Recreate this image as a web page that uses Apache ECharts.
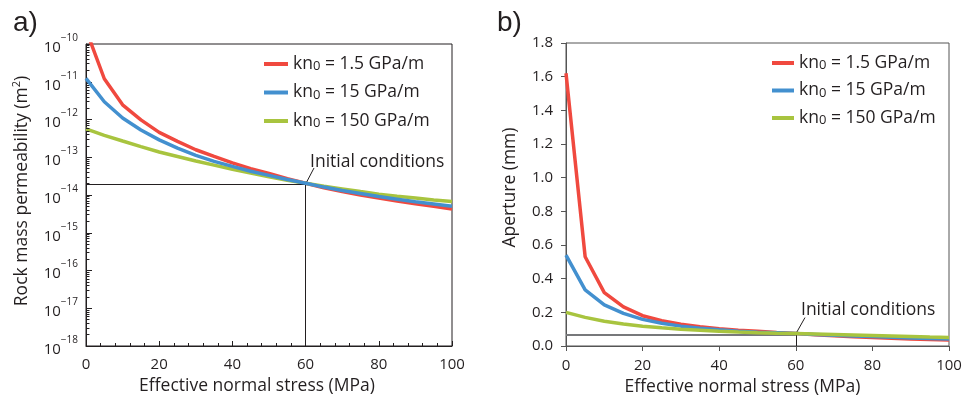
<!DOCTYPE html>
<html><head><meta charset="utf-8">
<script src="https://cdn.jsdelivr.net/npm/echarts@6/dist/echarts.min.js"></script>
<style>html,body{margin:0;padding:0;background:#fff}#c{width:969px;height:395px}</style>
</head><body><div id="c"></div>
<script>
// ---- data ----
const stress = [0,5,10,15,20,25,30,35,40,45,50,55,60,65,70,75,80,85,90,95,100];
const seriesNames = ['kn0 = 1.5 GPa/m', 'kn0 = 15 GPa/m', 'kn0 = 150 GPa/m'];
const colors = ['#f0493f', '#4390cf', '#a8c43f'];
// Panel a) rock mass permeability (m^2)
const permRed   = [2.40e-10,1.20e-11,2.45e-12,9.77e-13,4.57e-13,2.63e-13,1.58e-13,1.05e-13,7.08e-14,5.01e-14,3.72e-14,2.69e-14,2.04e-14,1.55e-14,1.23e-14,1.00e-14,8.32e-15,6.92e-15,5.89e-15,5.01e-15,4.27e-15];
const permBlue  = [1.23e-11,2.95e-12,1.10e-12,5.25e-13,2.88e-13,1.74e-13,1.12e-13,7.76e-14,5.75e-14,4.27e-14,3.31e-14,2.57e-14,2.04e-14,1.62e-14,1.32e-14,1.10e-14,9.12e-15,7.76e-15,6.61e-15,5.75e-15,5.01e-15];
const permGreen = [5.62e-13,3.80e-13,2.69e-13,1.91e-13,1.38e-13,1.05e-13,7.94e-14,6.17e-14,4.79e-14,3.80e-14,3.02e-14,2.45e-14,2.04e-14,1.70e-14,1.45e-14,1.23e-14,1.05e-14,9.33e-15,8.32e-15,7.41e-15,6.76e-15];
// Panel b) aperture (mm)
const apRed   = [1.62,0.53,0.317,0.232,0.18,0.15,0.13,0.115,0.103,0.094,0.087,0.080,0.074,0.067,0.061,0.055,0.050,0.046,0.042,0.038,0.035];
const apBlue  = [0.54,0.333,0.244,0.194,0.158,0.135,0.118,0.105,0.096,0.088,0.082,0.078,0.074,0.069,0.064,0.060,0.056,0.052,0.048,0.045,0.042];
const apGreen = [0.20,0.17,0.147,0.131,0.118,0.108,0.100,0.094,0.088,0.083,0.079,0.076,0.074,0.071,0.068,0.065,0.062,0.059,0.056,0.053,0.051];
const xTickLabels = [0,20,40,60,80,100];
const permDecades = [-18,-17,-16,-15,-14,-13,-12,-11,-10];
const apertureTicks = ['0.0','0.2','0.4','0.6','0.8','1.0','1.2','1.4','1.6','1.8'];
const initStress = 60, initPerm = 1.95e-14, initAperture = 0.068;
const leaderA = [62.3, 5.2e-14], leaderB = [62.4, 0.169];

// ---- build ----
const FONT = 'Open Sans';
const INK = '#231f20';
const pair = arr => stress.map((x, i) => [x, arr[i]]);
const minorTickValues = [];
for (let e = permDecades[0]; e < permDecades[permDecades.length-1]; e++)
  for (let m = 2; m <= 9; m++) minorTickValues.push(m * Math.pow(10, e));
const MINOR_LEN = 0.95; // tick length in stress units (≈3.5 px)

function legendFmt(name){ return '{a|kn}{z|0}{a|' + name.slice(3) + '}'; }
const legendRich = {
  a:{fontFamily:FONT,fontSize:17.5,color:INK},
  z:{fontFamily:FONT,fontSize:13,color:INK,verticalAlign:'bottom'}
};

function lineSeries(name, data, color, xi, z){
  return {type:'line', name, data, xAxisIndex:xi, yAxisIndex:xi, symbol:'none',
    lineStyle:{color, width:3.5}, itemStyle:{color}, z, clip:true, silent:true, animation:false};
}
const blackLine = {color:INK, width:1, type:'solid'};
const icLabel = {show:true, formatter:'Initial conditions', position:'right', distance:0,
  fontSize:17.5, color:INK, fontFamily:FONT};

const minorTickLines = minorTickValues.map(v =>
  [{coord:[0, v], lineStyle:{color:INK, width:1, type:'solid'}}, {coord:[MINOR_LEN, v]}]);

const option = {
  animation:false,
  textStyle:{fontFamily:FONT},
  graphic:[
    {id:'ta', type:'text', left:13, top:9, style:{text:'a)', font:'28px "Liberation Sans"', fill:INK}},
    {id:'tb', type:'text', left:497, top:9, style:{text:'b)', font:'28px "Liberation Sans"', fill:INK}}
  ],
  legend:[
    {data:seriesNames, orient:'vertical', left:264, top:55, padding:0, itemWidth:24, itemHeight:4, itemGap:10.5, icon:'rect',
     formatter:legendFmt, textStyle:{rich:legendRich}, selectedMode:false},
    {data:seriesNames, orient:'vertical', left:772, top:54, padding:0, itemWidth:22, itemHeight:4, itemGap:9.5, icon:'rect',
     formatter:legendFmt, textStyle:{rich:legendRich}, selectedMode:false}
  ],
  grid:[
    {left:86, right:517, top:44, bottom:49, containLabel:false, outerBoundsMode:'none',
     show:true, borderColor:INK, borderWidth:1, backgroundColor:'transparent'},
    {left:566, right:20, top:43, bottom:49, containLabel:false, outerBoundsMode:'none',
     show:true, borderColor:'#555', borderWidth:1, backgroundColor:'transparent'}
  ],
  xAxis:[
    {type:'value', gridIndex:0, min:0, max:100, interval:20,
     name:'Effective normal stress (MPa)', nameLocation:'middle', nameGap:31,
     nameTextStyle:{fontSize:17.5, color:INK, fontFamily:FONT, padding:[0,24,0,0]},
     axisLine:{lineStyle:{color:INK, width:1}},
     axisTick:{show:true, inside:true, length:5, lineStyle:{color:INK, width:1}},
     minorTick:{show:true, splitNumber:5, length:3, lineStyle:{color:INK, width:1}},
     axisLabel:{fontSize:15, color:INK, margin:11, fontFamily:FONT},
     splitLine:{show:false}},
    {type:'value', gridIndex:1, min:0, max:100, interval:20,
     name:'Effective normal stress (MPa)', nameLocation:'middle', nameGap:31,
     nameTextStyle:{fontSize:17.5, color:INK, fontFamily:FONT, padding:[0,30,0,0]},
     axisLine:{lineStyle:{color:'#555', width:1}},
     axisTick:{show:true, inside:false, length:5, lineStyle:{color:'#555', width:1}},
     axisLabel:{fontSize:15, color:INK, margin:12, fontFamily:FONT},
     splitLine:{show:false}}
  ],
  yAxis:[
    {type:'log', gridIndex:0, logBase:10, min:Math.pow(10,permDecades[0]), max:Math.pow(10,permDecades[permDecades.length-1]), interval:1,
     name:'Rock mass permeability (m{s|2})', nameLocation:'middle', nameGap:53, nameRotate:90,
     nameTextStyle:{fontSize:17.5, color:INK, fontFamily:FONT, padding:[0,0,0,8],
       rich:{s:{fontSize:11, color:INK, fontFamily:FONT, verticalAlign:'top', lineHeight:22}}},
     axisLine:{lineStyle:{color:INK, width:1}},
     axisTick:{show:true, inside:true, length:6, lineStyle:{color:INK, width:1}},
     axisLabel:{margin:8, color:INK,
       formatter:v => { const e = Math.round(Math.log10(v)); return '{b|10}{s|' + String(e).replace('-','−') + '}'; },
       rich:{b:{fontSize:15, fontFamily:FONT, color:INK, lineHeight:22, verticalAlign:'bottom'},
             s:{fontSize:10, fontFamily:FONT, color:INK, lineHeight:12, verticalAlign:'top'}}},
     splitLine:{show:false}},
    {type:'value', gridIndex:1, min:0, max:1.8, interval:0.2,
     name:'Aperture (mm)', nameLocation:'middle', nameGap:47, nameRotate:90,
     nameTextStyle:{fontSize:17.5, color:INK, fontFamily:FONT, padding:[0,0,0,14]},
     axisLine:{lineStyle:{color:'#555', width:1}},
     axisTick:{show:true, inside:false, length:5, lineStyle:{color:'#555', width:1}},
     axisLabel:{margin:13, fontSize:15, color:INK, fontFamily:FONT,
       formatter:(v) => apertureTicks[Math.round(v/0.2)]},
     splitLine:{show:false}}
  ],
  series:[
    // panel a
    Object.assign(lineSeries(seriesNames[0], pair(permRed), colors[0], 0, 3), {
      markLine:{silent:true, symbol:['none','none'], label:{show:false}, animation:false,
        data:[
          [{coord:[0, initPerm], lineStyle:blackLine}, {coord:[initStress, initPerm]}],
          [{coord:[initStress, initPerm], lineStyle:blackLine}, {coord:[initStress, Math.pow(10,permDecades[0])]}],
          [{coord:[initStress, initPerm], lineStyle:blackLine}, {coord:leaderA}]
        ].concat(minorTickLines)},
      markPoint:{silent:true, animation:false, data:[{coord:leaderA, symbol:'circle', symbolSize:0,
        label:Object.assign({offset:[-4,-6]}, icLabel)}]}
    }),
    lineSeries(seriesNames[2], pair(permGreen), colors[2], 0, 4),
    lineSeries(seriesNames[1], pair(permBlue), colors[1], 0, 5),
    // panel b
    Object.assign(lineSeries(seriesNames[0], pair(apRed), colors[0], 1, 3), {
      markLine:{silent:true, symbol:['none','none'], label:{show:false}, animation:false,
        data:[
          [{coord:[0, initAperture], lineStyle:{color:'#77787b', width:2, type:'solid'}}, {coord:[initStress, initAperture]}],
          [{coord:[initStress, initAperture], lineStyle:blackLine}, {coord:[initStress, 0]}],
          [{coord:[initStress, initAperture+0.004], lineStyle:blackLine}, {coord:leaderB}]
        ]},
      markPoint:{silent:true, animation:false, data:[{coord:leaderB, symbol:'circle', symbolSize:0,
        label:Object.assign({offset:[-4,-8]}, icLabel)}]}
    }),
    lineSeries(seriesNames[1], pair(apBlue), colors[1], 1, 4),
    lineSeries(seriesNames[2], pair(apGreen), colors[2], 1, 5)
  ]
};
const chart = echarts.init(document.getElementById('c'), null, {renderer:'canvas'});
chart.setOption(option);
</script></body></html>
